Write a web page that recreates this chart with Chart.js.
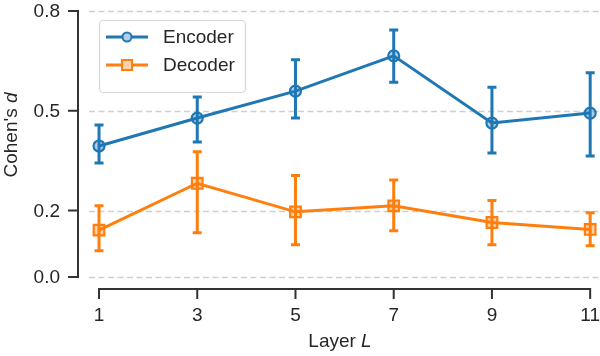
<!DOCTYPE html>
<html>
<head>
<meta charset="utf-8">
<script src="https://cdn.jsdelivr.net/npm/chart.js@4.4.1/dist/chart.umd.min.js"></script>
<style>
  html, body { margin: 0; padding: 0; background: #fff; }
  #wrap { width: 600px; height: 356px; }
</style>
</head>
<body>
<div id="wrap"><canvas id="chart" width="600" height="356"></canvas></div>
<script>
// data
const layers = [1, 3, 5, 7, 9, 11];
const encoderMean = [0.394, 0.478, 0.559, 0.665, 0.463, 0.493];
const encoderLow  = [0.343, 0.406, 0.478, 0.586, 0.373, 0.364];
const encoderHigh = [0.457, 0.541, 0.653, 0.743, 0.571, 0.614];
const decoderMean = [0.141, 0.282, 0.196, 0.214, 0.164, 0.143];
const decoderLow  = [0.079, 0.133, 0.097, 0.139, 0.097, 0.094];
const decoderHigh = [0.214, 0.377, 0.305, 0.292, 0.230, 0.193];
const yTicks = [0.0, 0.2, 0.5, 0.8];
const xTicks = [1, 3, 5, 7, 9, 11];

const BLUE = '#1f77b4';
const ORANGE = '#ff7f0e';
const FONT = '"Liberation Sans", Arial, Helvetica, sans-serif';
const TEXT = '#262626';
const SPINE = '#333333';
const FSIZE = 19;
const LW = 3;

function toPoints(ys) {
  return layers.map((x, i) => ({ x: x, y: ys[i] }));
}

// gridlines, offset spines + ticks + labels, error bars, legend, axis titles
const decorPlugin = {
  id: 'decor',
  beforeDatasetsDraw(chart) {
    const ctx = chart.ctx;
    const xs = chart.scales.x, ys = chart.scales.y;
    const area = chart.chartArea;

    ctx.save();
    ctx.strokeStyle = '#cfcfcf';
    ctx.lineWidth = 1.3;
    ctx.setLineDash([6, 3.5]);
    ys.ticks.forEach(t => {
      const y = Math.round(ys.getPixelForValue(t.value)) + 0.5;
      ctx.beginPath();
      ctx.moveTo(area.left, y);
      ctx.lineTo(area.right, y);
      ctx.stroke();
    });
    ctx.restore();

    // error bars
    const bars = [
      { low: encoderLow, high: encoderHigh, color: BLUE },
      { low: decoderLow, high: decoderHigh, color: ORANGE }
    ];
    ctx.save();
    ctx.lineWidth = LW;
    bars.forEach(b => {
      ctx.strokeStyle = b.color;
      layers.forEach((l, i) => {
        const x = xs.getPixelForValue(l);
        const y1 = ys.getPixelForValue(b.low[i]);
        const y2 = ys.getPixelForValue(b.high[i]);
        ctx.beginPath();
        ctx.moveTo(x, y1);
        ctx.lineTo(x, y2);
        ctx.moveTo(x - 4.5, y1);
        ctx.lineTo(x + 4.5, y1);
        ctx.moveTo(x - 4.5, y2);
        ctx.lineTo(x + 4.5, y2);
        ctx.stroke();
      });
    });
    ctx.restore();
  },
  afterDraw(chart) {
    const ctx = chart.ctx;
    const xs = chart.scales.x, ys = chart.scales.y;
    const spineX = 78, spineY = 289;
    const yt = ys.ticks, xt = xs.ticks;

    ctx.save();
    ctx.strokeStyle = SPINE;
    ctx.lineWidth = 2;
    ctx.lineCap = 'butt';
    // y spine trimmed to ticks
    ctx.beginPath();
    ctx.moveTo(spineX, ys.getPixelForValue(yt[0].value) + 1);
    ctx.lineTo(spineX, ys.getPixelForValue(yt[yt.length - 1].value) - 1);
    yt.forEach(t => {
      const y = ys.getPixelForValue(t.value);
      ctx.moveTo(spineX, y);
      ctx.lineTo(spineX - 10, y);
    });
    ctx.stroke();
    // x spine trimmed to ticks
    ctx.beginPath();
    ctx.moveTo(xs.getPixelForValue(xt[0].value) - 1, spineY);
    ctx.lineTo(xs.getPixelForValue(xt[xt.length - 1].value) + 1, spineY);
    xt.forEach(t => {
      const x = xs.getPixelForValue(t.value);
      ctx.moveTo(x, spineY);
      ctx.lineTo(x, spineY + 10);
    });
    ctx.stroke();

    // tick labels
    ctx.fillStyle = TEXT;
    ctx.font = FSIZE + 'px ' + FONT;
    ctx.textBaseline = 'middle';
    ctx.textAlign = 'right';
    yt.forEach(t => {
      ctx.fillText(t.value.toFixed(1), 60, ys.getPixelForValue(t.value) + 1);
    });
    ctx.textAlign = 'center';
    xt.forEach(t => {
      ctx.fillText(String(t.value), xs.getPixelForValue(t.value), 316);
    });
    ctx.restore();

    // legend
    ctx.save();
    ctx.fillStyle = 'rgba(255,255,255,0.85)';
    ctx.strokeStyle = '#d8d8d8';
    ctx.lineWidth = 1.2;
    ctx.beginPath();
    ctx.roundRect(99.5, 20.5, 146, 72, 4);
    ctx.fill();
    ctx.stroke();
    const entries = [
      { label: 'Encoder', color: BLUE, style: 'circle', y: 37 },
      { label: 'Decoder', color: ORANGE, style: 'rect', y: 65 }
    ];
    entries.forEach(e => {
      ctx.strokeStyle = e.color;
      ctx.lineWidth = LW;
      ctx.beginPath();
      ctx.moveTo(106, e.y);
      ctx.lineTo(148, e.y);
      ctx.stroke();
      const fill = e.style === 'circle' ? 'rgba(31,119,180,0.35)' : 'rgba(255,127,14,0.35)';
      ctx.fillStyle = '#fff';
      ctx.lineWidth = 2;
      if (e.style === 'circle') {
        ctx.beginPath();
        ctx.arc(127, e.y, 4.5, 0, Math.PI * 2);
        ctx.fill();
        ctx.fillStyle = fill;
        ctx.fill();
        ctx.stroke();
      } else {
        ctx.fillRect(122, e.y - 5, 10, 10);
        ctx.fillStyle = fill;
        ctx.fillRect(122, e.y - 5, 10, 10);
        ctx.strokeRect(122, e.y - 5, 10, 10);
      }
      ctx.fillStyle = TEXT;
      ctx.font = FSIZE + 'px ' + FONT;
      ctx.textBaseline = 'middle';
      ctx.textAlign = 'left';
      ctx.fillText(e.label, 163, e.y + 1);
    });
    ctx.restore();

    // axis titles with italic symbols
    function mixed(parts, cx, cy, rot) {
      ctx.save();
      ctx.translate(cx, cy);
      ctx.rotate(rot);
      ctx.fillStyle = TEXT;
      ctx.textBaseline = 'middle';
      ctx.textAlign = 'left';
      let total = 0;
      parts.forEach(p => {
        ctx.font = (p.italic ? 'italic ' : '') + '19px ' + FONT;
        p.w = ctx.measureText(p.text).width;
        total += p.w;
      });
      let x = -total / 2;
      parts.forEach(p => {
        ctx.font = (p.italic ? 'italic ' : '') + '19px ' + FONT;
        ctx.fillText(p.text, x, 0);
        x += p.w;
      });
      ctx.restore();
    }
    mixed([{ text: "Cohen's " }, { text: 'd', italic: true }], 12, 135, -Math.PI / 2);
    mixed([{ text: 'Layer ' }, { text: 'L', italic: true }], 340, 342, 0);
  }
};

new Chart(document.getElementById('chart'), {
  type: 'line',
  data: {
    datasets: [
      {
        label: 'Encoder',
        data: toPoints(encoderMean),
        borderColor: BLUE,
        borderWidth: LW,
        pointStyle: 'circle',
        pointRadius: 5.5,
        pointBorderWidth: 2.2,
        pointBackgroundColor: 'rgba(31,119,180,0.35)',
        pointBorderColor: BLUE,
        tension: 0,
        clip: false
      },
      {
        label: 'Decoder',
        data: toPoints(decoderMean),
        borderColor: ORANGE,
        borderWidth: LW,
        pointStyle: 'rect',
        pointRadius: 7.5,
        pointBorderWidth: 2.2,
        pointBackgroundColor: 'rgba(255,127,14,0.35)',
        pointBorderColor: ORANGE,
        tension: 0,
        clip: false
      }
    ]
  },
  options: {
    responsive: false,
    animation: false,
    devicePixelRatio: 1,
    layout: { padding: 0, autoPadding: false },
    plugins: {
      legend: { display: false },
      tooltip: { enabled: false }
    },
    scales: {
      x: {
        type: 'linear',
        min: 0.796,
        max: 11.2,
        afterBuildTicks: s => { s.ticks = xTicks.map(v => ({ value: v })); },
        afterFit: s => { s.height = 67; },
        ticks: { display: false },
        grid: { display: false, drawTicks: false },
        border: { display: false }
      },
      y: {
        min: -0.036,
        max: 0.833,
        afterBuildTicks: s => { s.ticks = yTicks.map(v => ({ value: v })); },
        afterFit: s => { s.width = 89; },
        ticks: { display: false },
        grid: { display: false, drawTicks: false },
        border: { display: false }
      }
    }
  },
  plugins: [decorPlugin]
});
</script>
</body>
</html>
